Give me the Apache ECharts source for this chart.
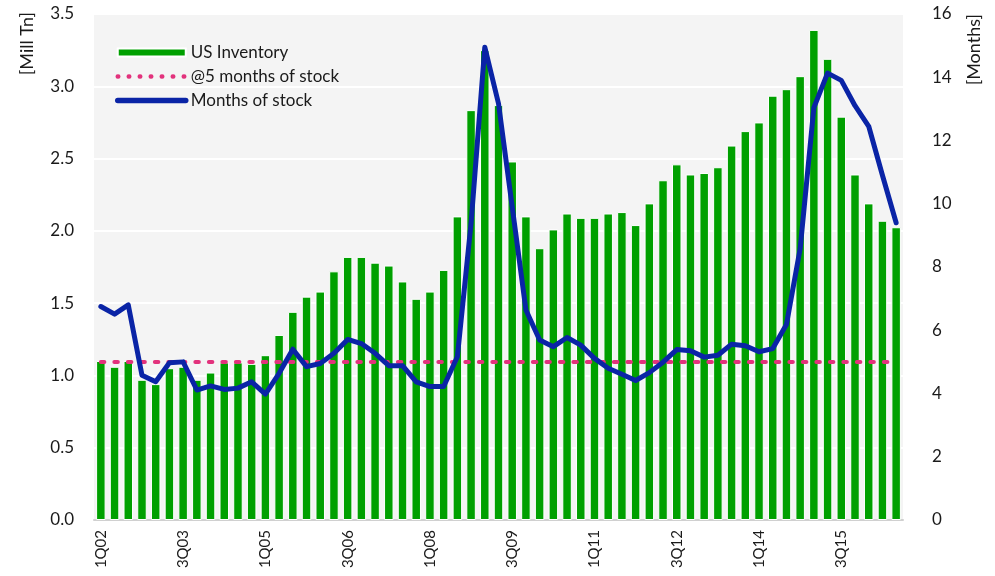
<!DOCTYPE html>
<html>
<head>
<meta charset="utf-8">
<script src="https://cdn.jsdelivr.net/npm/echarts@6/dist/echarts.min.js"></script>
<style>
html,body{margin:0;padding:0;background:#fff;}
#chart{width:995px;height:576px;}
</style>
</head>
<body>
<div id="chart"></div>
<script>
var categories = ['1Q02','2Q02','3Q02','4Q02','1Q03','2Q03','3Q03','4Q03','1Q04','2Q04','3Q04','4Q04',
  '1Q05','2Q05','3Q05','4Q05','1Q06','2Q06','3Q06','4Q06','1Q07','2Q07','3Q07','4Q07',
  '1Q08','2Q08','3Q08','4Q08','1Q09','2Q09','3Q09','4Q09','1Q10','2Q10','3Q10','4Q10',
  '1Q11','2Q11','3Q11','4Q11','1Q12','2Q12','3Q12','4Q12','1Q13','2Q13','3Q13','4Q13',
  '1Q14','2Q14','3Q14','4Q14','1Q15','2Q15','3Q15','4Q15','1Q16','2Q16','3Q16'];

var usInventory = [1.10,1.06,1.10,0.97,0.94,1.05,1.06,0.97,1.02,1.09,1.09,1.08,
  1.14,1.28,1.44,1.545,1.58,1.72,1.82,1.82,1.78,1.76,1.65,1.53,
  1.58,1.73,2.10,2.835,3.25,2.87,2.48,2.10,1.88,2.01,2.12,2.09,
  2.09,2.12,2.13,2.04,2.19,2.35,2.46,2.39,2.40,2.44,2.59,2.69,
  2.75,2.935,2.98,3.07,3.39,3.19,2.79,2.39,2.19,2.07,2.025];

var monthsOfStock = [6.75,6.51,6.80,4.58,4.37,4.97,5.00,4.11,4.24,4.13,4.17,4.37,
  3.98,4.64,5.40,4.85,4.95,5.27,5.71,5.58,5.27,4.88,4.88,4.37,
  4.22,4.22,5.16,9.38,14.95,13.17,9.90,6.64,5.69,5.48,5.77,5.53,
  5.11,4.80,4.61,4.41,4.66,4.99,5.39,5.35,5.15,5.21,5.56,5.51,
  5.32,5.42,6.18,8.58,13.04,14.13,13.90,13.10,12.45,10.90,9.40];

var fiveMonths = [5,5,5,5,5,5,5,5,5,5,5,5,5,5,5,5,5,5,5,5,5,5,5,5,5,5,5,5,5,5,
  5,5,5,5,5,5,5,5,5,5,5,5,5,5,5,5,5,5,5,5,5,5,5,5,5,5,5,5,5];

var leftTicks = ['0.0','0.5','1.0','1.5','2.0','2.5','3.0','3.5'];

var FONT = 'Lato, "Noto Sans", sans-serif';
var chart = echarts.init(document.getElementById('chart'), null, {renderer:'canvas'});
chart.setOption({
  animation:false,
  backgroundColor:'#ffffff',
  textStyle:{fontFamily:FONT},
  grid:{left:94, right:92, top:14, bottom:56, show:true, backgroundColor:'#f4f4f4', borderWidth:0},
  legend:{
    orient:'vertical', left:110, top:39, itemWidth:68, itemHeight:8, itemGap:7,
    textStyle:{fontFamily:FONT, fontSize:17, color:'#1a1a1a'},
    data:[
      {name:'US Inventory', icon:'rect'},
      {name:'@5 months of stock', itemStyle:{color:'rgba(0,0,0,0)', borderWidth:0},
       lineStyle:{color:'#e2327c', width:4.5, type:[0.5,10.5], cap:'round'}},
      {name:'Months of stock', itemStyle:{color:'rgba(0,0,0,0)', borderWidth:0},
       lineStyle:{color:'#0a24a6', width:5.5, cap:'round'}}
    ]
  },
  graphic:[
    {type:'text', left:18, top:12, rotation:Math.PI/2, style:{text:'[Mill Tn]', font:'18px '+FONT, fill:'#1a1a1a'}},
    {type:'text', left:965, top:14, rotation:Math.PI/2, style:{text:'[Months]', font:'18px '+FONT, fill:'#1a1a1a'}}
  ],
  xAxis:{
    type:'category', data:categories, boundaryGap:true,
    axisLine:{show:true, lineStyle:{color:'#d0d0d0', width:2}},
    axisTick:{show:false},
    axisLabel:{interval:5, rotate:90, fontSize:15, color:'#1a1a1a', margin:10, fontFamily:FONT},
    splitLine:{show:false}
  },
  yAxis:[
    {type:'value', min:0, max:3.5, interval:0.5,
     axisLine:{show:false}, axisTick:{show:false},
     axisLabel:{fontSize:17, color:'#1a1a1a', margin:20, fontFamily:FONT,
       formatter:function(v){return leftTicks[Math.round(v/0.5)];}},
     splitLine:{show:true, lineStyle:{color:'#ffffff', width:2}}},
    {type:'value', min:0, max:16, interval:2,
     axisLine:{show:false}, axisTick:{show:false},
     axisLabel:{fontSize:17, color:'#1a1a1a', margin:29, fontFamily:FONT},
     splitLine:{show:false}}
  ],
  series:[
    {name:'US Inventory', type:'bar', yAxisIndex:0, data:usInventory, barWidth:9.5,
     itemStyle:{color:'#00a000', borderColor:'#ffffff', borderWidth:1}},
    {name:'@5 months of stock', type:'line', yAxisIndex:1, data:fiveMonths, showSymbol:false, symbol:'none',
     itemStyle:{color:'#e2327c'},
     lineStyle:{color:'#e2327c', width:4, type:[3.5,10], cap:'round'}},
    {name:'Months of stock', type:'line', yAxisIndex:1, data:monthsOfStock, showSymbol:false, symbol:'none',
     itemStyle:{color:'#0a24a6'},
     lineStyle:{color:'#0a24a6', width:5, join:'round', cap:'round'}}
  ]
});
</script>
</body>
</html>
